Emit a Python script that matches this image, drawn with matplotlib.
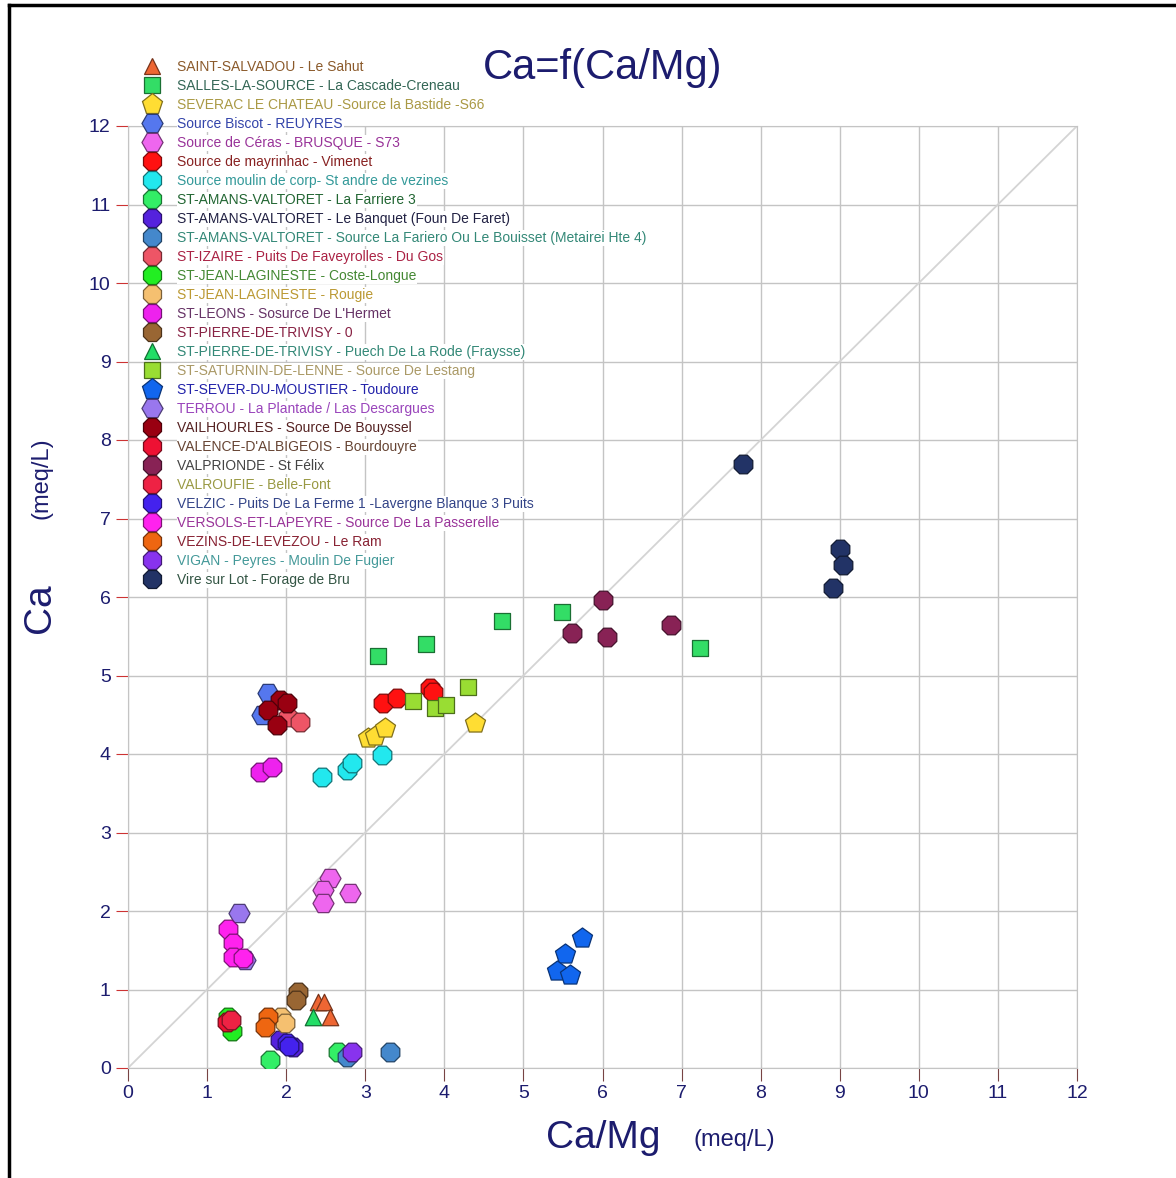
import numpy as np
import matplotlib
matplotlib.use("Agg")
import matplotlib.pyplot as plt
from matplotlib.colors import to_rgb
from matplotlib.lines import Line2D

plt.rcParams['font.family'] = ['Liberation Sans', 'DejaVu Sans']

# sources (legend order)
names = [
    "SAINT-SALVADOU - Le Sahut",
    "SALLES-LA-SOURCE - La Cascade-Creneau",
    "SEVERAC LE CHATEAU -Source la Bastide -S66",
    "Source Biscot - REUYRES",
    "Source de Céras - BRUSQUE - S73",
    "Source de mayrinhac - Vimenet",
    "Source moulin de corp- St andre de vezines",
    "ST-AMANS-VALTORET - La Farriere 3",
    "ST-AMANS-VALTORET - Le Banquet (Foun De Faret)",
    "ST-AMANS-VALTORET - Source La Fariero Ou Le Bouisset (Metairei Hte 4)",
    "ST-IZAIRE - Puits De Faveyrolles - Du Gos",
    "ST-JEAN-LAGINESTE - Coste-Longue",
    "ST-JEAN-LAGINESTE - Rougie",
    "ST-LEONS - Sosurce De L'Hermet",
    "ST-PIERRE-DE-TRIVISY - 0",
    "ST-PIERRE-DE-TRIVISY - Puech De La Rode (Fraysse)",
    "ST-SATURNIN-DE-LENNE - Source De Lestang",
    "ST-SEVER-DU-MOUSTIER - Toudoure",
    "TERROU - La Plantade / Las Descargues",
    "VAILHOURLES - Source De Bouyssel",
    "VALENCE-D'ALBIGEOIS - Bourdouyre",
    "VALPRIONDE - St Félix",
    "VALROUFIE - Belle-Font",
    "VELZIC - Puits De La Ferme 1 -Lavergne Blanque 3 Puits",
    "VERSOLS-ET-LAPEYRE - Source De La Passerelle",
    "VEZINS-DE-LEVEZOU - Le Ram",
    "VIGAN - Peyres - Moulin De Fugier",
    "Vire sur Lot - Forage de Bru",
]

markers = ['^', 's', 'p', 'H', 'H', '8', '8', '8', '8', '8', '8', '8', '8', '8',
           '8', '^', 's', 'p', 'H', '8', '8', '8', '8', '8', '8', '8', '8', '8']

colors = ['#ee6633', '#33dd66', '#ffdd33', '#5577ee', '#ee66ee', '#ff1111',
          '#22e8ee', '#33ee66', '#5522dd', '#4488cc', '#ee5566', '#22ee22',
          '#f5c070', '#ee22ee', '#996633', '#22dd66', '#99dd33', '#1166ee',
          '#9977ee', '#990011', '#ee1133', '#882255', '#ee2244', '#4422ee',
          '#ff22ee', '#ee6611', '#8833ee', '#223366']

text_colors = ['#8b5a2b', '#336655', '#aa9944', '#3344aa', '#993399', '#882222',
               '#339999', '#226633', '#222244', '#338877', '#aa2244', '#448833',
               '#bb9933', '#663366', '#882244', '#338877', '#aa9966', '#2222aa',
               '#9944bb', '#552222', '#664433', '#444444', '#999944', '#334488',
               '#993399', '#882233', '#449999', '#335544']

ca_mg = [
    [2.40, 2.48, 2.55],
    [3.16, 3.77, 4.73, 5.49, 7.23],
    [3.03, 3.12, 3.25, 4.39],
    [1.77, 1.69],
    [2.55, 2.47, 2.47, 2.81],
    [3.22, 3.40, 3.82, 3.86],
    [2.45, 2.77, 2.83, 3.21],
    [1.80, 2.66],
    [1.92, 2.09],
    [3.31, 2.77],
    [2.02, 2.17],
    [1.27, 1.32],
    [1.94, 1.99],
    [1.67, 1.82],
    [2.15, 2.13],
    [2.34],
    [3.60, 3.88, 4.02, 4.30],
    [5.74, 5.53, 5.42, 5.59],
    [1.40, 1.48],
    [1.92, 1.77, 1.88, 2.01],
    [1.25],
    [6.01, 5.61, 6.06, 6.87],
    [1.30],
    [2.01, 2.03],
    [1.26, 1.33, 1.33, 1.45],
    [1.77, 1.73],
    [2.83],
    [7.78, 9.00, 9.04, 8.91],
]

ca = [
    [0.84, 0.84, 0.65],
    [5.25, 5.40, 5.69, 5.81, 5.35],
    [4.20, 4.23, 4.33, 4.39],
    [4.78, 4.50],
    [2.42, 2.27, 2.10, 2.23],
    [4.65, 4.71, 4.84, 4.79],
    [3.71, 3.80, 3.89, 3.99],
    [0.10, 0.20],
    [0.36, 0.27],
    [0.20, 0.14],
    [4.47, 4.41],
    [0.65, 0.47],
    [0.65, 0.57],
    [3.77, 3.83],
    [0.97, 0.87],
    [0.65],
    [4.68, 4.59, 4.62, 4.85],
    [1.66, 1.45, 1.24, 1.18],
    [1.97, 1.38],
    [4.69, 4.56, 4.37, 4.65],
    [0.59],
    [5.96, 5.54, 5.49, 5.64],
    [0.61],
    [0.32, 0.28],
    [1.77, 1.59, 1.41, 1.40],
    [0.65, 0.52],
    [0.20],
    [7.69, 6.61, 6.41, 6.11],
]

sizes = {'8': 210, 'o': 190, 's': 120, '^': 140, 'p': 230, 'H': 230}

navy = '#1c1c6e'
fig = plt.figure(figsize=(11.76, 11.78), dpi=100)
ax = fig.add_axes([128 / 1176, 1 - 1068 / 1178, 949 / 1176, 942 / 1178])

ax.set_xlim(0, 12)
ax.set_ylim(0, 12)
ax.set_xticks(range(13))
ax.set_yticks(range(13))
ax.grid(True, color='#c4c4c4', linewidth=1)
ax.set_axisbelow(True)
for s in ax.spines.values():
    s.set_color('#c4c4c4')
ax.tick_params(axis='y', colors='#cc3333', length=9, labelsize=14, labelcolor=navy)
ax.tick_params(axis='x', colors='#774444', length=9, labelsize=14, labelcolor=navy)

# 1:1 line
ax.plot([0, 12], [0, 12], color='#d4d4d4', linewidth=1.3, zorder=1)

handles = []
for i in range(len(names)):
    edge = tuple(np.array(to_rgb(colors[i])) * 0.5)
    ax.scatter(ca_mg[i], ca[i], s=sizes[markers[i]], marker=markers[i],
               facecolor=colors[i], edgecolor=edge, linewidth=0.9, zorder=3)
    handles.append(Line2D([], [], linestyle='none', marker=markers[i],
                          markersize=np.sqrt(sizes[markers[i]]),
                          markerfacecolor=colors[i], markeredgecolor=edge,
                          markeredgewidth=0.9, label=names[i]))

leg = fig.legend(handles=handles, loc='upper left',
                 bbox_to_anchor=(144 / 1176, 1 - 60 / 1178),
                 frameon=False, fontsize=10, labelspacing=0.36,
                 handlelength=1.2, handletextpad=1.2, borderpad=0,
                 borderaxespad=0)
for t, c in zip(leg.get_texts(), text_colors):
    t.set_color(c)
    t.set_bbox(dict(facecolor='white', edgecolor='none', pad=0.5))

fig.text(603 / 1176, 1 - 68 / 1178, "Ca=f(Ca/Mg)", color=navy, fontsize=30,
         ha='center', va='center')
fig.text(603 / 1176, 1 - 1138 / 1178, "Ca/Mg", color=navy, fontsize=28,
         ha='center', va='center')
fig.text(734 / 1176, 1 - 1140 / 1178, "(meq/L)", color=navy, fontsize=17,
         ha='center', va='center')
fig.text(40 / 1176, 1 - 608 / 1178, "Ca", color=navy, fontsize=28,
         ha='center', va='center', rotation=90)
fig.text(42 / 1176, 1 - 478 / 1178, "(meq/L)", color=navy, fontsize=17,
         ha='center', va='center', rotation=90)

# outer frame (top and left edges visible)
fig.add_artist(Line2D([9 / 1176, 1], [1 - 5 / 1178, 1 - 5 / 1178],
                      transform=fig.transFigure, color='black', linewidth=2.5))
fig.add_artist(Line2D([9 / 1176, 9 / 1176], [0, 1 - 5 / 1178],
                      transform=fig.transFigure, color='black', linewidth=2.5))

fig.savefig("out.png", dpi=100)
